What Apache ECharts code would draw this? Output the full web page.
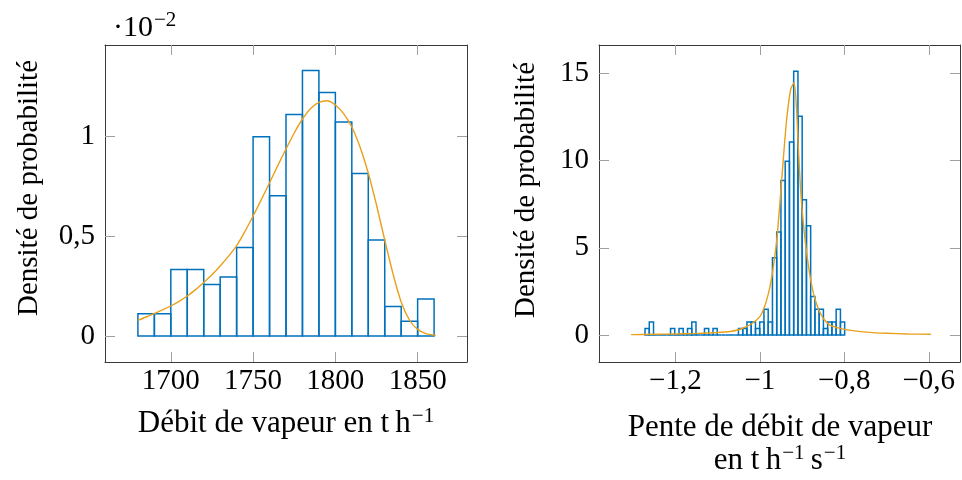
<!DOCTYPE html>
<html>
<head>
<meta charset="utf-8">
<script src="https://cdn.jsdelivr.net/npm/echarts@6/dist/echarts.min.js"></script>
<style>
html,body{margin:0;padding:0;background:#fff;}
#chart{width:962px;height:480px;}
</style>
</head>
<body>
<div id="chart"></div>
<script>
// ---- Left histogram: steam flow (density, in units of 1e-2) ----
const leftBinEdges = [1680,1690,1700,1710,1720,1730,1740,1750,1760,1770,1780,1790,1800,1810,1820,1830,1840,1850,1860];
const leftBinValues = [0.111,0.111,0.332,0.332,0.258,0.295,0.443,0.996,0.701,1.107,1.328,1.218,1.070,0.812,0.480,0.148,0.074,0.185];
const leftCurveX = [1680,1685,1690,1695,1700,1705,1710,1715,1720,1725,1730,1735,1740,1745,1750,1755,1760,1765,1770,1775,1780,1785,1790,1795,1800,1805,1810,1815,1820,1825,1830,1835,1840,1845,1850,1855,1861];
const leftCurveY = [0.078,0.095,0.113,0.131,0.150,0.173,0.200,0.232,0.268,0.306,0.350,0.398,0.452,0.522,0.600,0.682,0.766,0.852,0.935,1.015,1.085,1.138,1.168,1.176,1.155,1.112,1.045,0.945,0.815,0.655,0.480,0.312,0.170,0.080,0.033,0.012,0.004];
const leftXTicks = [1700,1750,1800,1850];
const leftXTickLabels = ['1700','1750','1800','1850'];
const leftYTicks = [0,0.5,1];
const leftYTickLabels = ['0','0,5','1'];

// ---- Right histogram: steam flow slope ----
const rightBinEdges = [-1.2720,-1.2619,-1.2519,-1.2418,-1.2318,-1.2217,-1.2116,-1.2016,-1.1915,-1.1815,-1.1714,-1.1613,-1.1513,-1.1412,-1.1312,-1.1211,-1.1110,-1.1010,-1.0909,-1.0809,-1.0708,-1.0607,-1.0507,-1.0406,-1.0306,-1.0205,-1.0104,-1.0004,-0.9903,-0.9803,-0.9702,-0.9601,-0.9501,-0.9400,-0.9300,-0.9199,-0.9098,-0.8998,-0.8897,-0.8797,-0.8696,-0.8595,-0.8495,-0.8394,-0.8294,-0.8193,-0.8092,-0.7992];
const rightBinValues = [0.37,0.74,0,0,0,0,0.37,0,0.37,0,0.37,0.74,0,0,0.37,0,0.37,0,0,0,0,0,0.37,0.37,0.74,0.74,0.37,0.74,1.48,0.74,4.43,5.90,8.86,9.96,11.07,15.13,12.55,7.75,6.27,2.21,1.48,1.48,0.37,0.74,0.74,1.48,0.74];
const rightCurveX = [-1.305,-1.25,-1.20,-1.15,-1.10,-1.07,-1.047,-1.032,-1.016,-1.000,-0.992,-0.984,-0.976,-0.968,-0.960,-0.9526,-0.9446,-0.9367,-0.927,-0.919,-0.913,-0.909,-0.9035,-0.897,-0.889,-0.881,-0.873,-0.862,-0.850,-0.834,-0.810,-0.78,-0.74,-0.70,-0.65,-0.595];
const rightCurveY = [0.02,0.04,0.06,0.09,0.14,0.20,0.33,0.48,0.70,1.05,1.43,2.00,2.77,3.92,5.45,7.55,10.04,12.33,14.09,14.47,12.90,10.80,8.32,6.40,4.68,3.35,2.39,1.53,0.96,0.57,0.38,0.25,0.15,0.10,0.06,0.04];
const rightXTicks = [-1.2,-1,-0.8,-0.6];
const rightXTickLabels = ['\u22121,2','\u22121','\u22120,8','\u22120,6'];
const rightYTicks = [0,5,10,15];
const rightYTickLabels = ['0','5','10','15'];

const FONT = 'Liberation Serif';
const FS = 29;
const FS_YNAME = 29;
const FS_XNAME = 31;
const BLUE = '#0072BD';
const ORANGE = '#E9A01A';
const FRAME = '#3a3a3a';
const TICK = '#a0a0a0';

function lookup(ticks, labels){
  return function(v){
    for (let i=0;i<ticks.length;i++){ if (Math.abs(ticks[i]-v) < 1e-6) return labels[i]; }
    return '';
  };
}

function xAxis(grid, min, max, ticks, labels, pos){
  const main = pos === 'bottom';
  return {
    gridIndex: grid, type: 'value', min: min, max: max, position: pos,
    axisLine: {show: true, onZero: false, lineStyle: {color: FRAME, width: 1}},
    axisTick: {show: true, inside: true, length: 10, customValues: ticks, lineStyle: {color: TICK, width: 1}},
    axisLabel: {show: main, customValues: ticks, formatter: lookup(ticks, labels), fontFamily: FONT, fontSize: FS, color: '#000', margin: 5},
    splitLine: {show: false}
  };
}
function yAxis(grid, min, max, ticks, labels, pos){
  const main = pos === 'left';
  return {
    gridIndex: grid, type: 'value', min: min, max: max, position: pos,
    axisLine: {show: true, onZero: false, lineStyle: {color: FRAME, width: 1}},
    axisTick: {show: true, inside: true, length: 10, customValues: ticks, lineStyle: {color: TICK, width: 1}},
    axisLabel: {show: main, customValues: ticks, formatter: lookup(ticks, labels), fontFamily: FONT, fontSize: FS, color: '#000', margin: 10},
    splitLine: {show: false}
  };
}

function binData(edges, values){
  const out = [];
  for (let i=0;i<values.length;i++) out.push([edges[i], edges[i+1], values[i]]);
  return out;
}
function zip(xs, ys){ return xs.map((x,i)=>[x, ys[i]]); }

function renderBin(params, api){
  const p0 = api.coord([api.value(0), 0]);
  const p1 = api.coord([api.value(1), api.value(2)]);
  return {
    type: 'rect',
    shape: {x: p0[0], y: p1[1], width: p1[0]-p0[0], height: p0[1]-p1[1]},
    style: {fill: 'rgba(0,0,0,0)', stroke: BLUE, lineWidth: 1.5}
  };
}

const chart = echarts.init(document.getElementById('chart'), null, {renderer: 'canvas'});
const supX = {fontFamily: FONT, fontSize: 21, verticalAlign: 'top', lineHeight: 22, padding: [0,0,0,1]};
const normX = {fontFamily: FONT, fontSize: FS_XNAME, lineHeight: 36};
const supM = {fontFamily: FONT, fontSize: 21, verticalAlign: 'top', lineHeight: 22, padding: [0,0,0,1]};
const normM = {fontFamily: FONT, fontSize: 30, lineHeight: 36};

chart.setOption({
  animation: false,
  backgroundColor: '#fff',
  grid: [
    {left: 105, top: 45, width: 362, height: 317},
    {left: 599, top: 45, width: 361, height: 317}
  ],
  xAxis: [
    xAxis(0, 1660, 1880, leftXTicks, leftXTickLabels, 'bottom'),
    xAxis(0, 1660, 1880, leftXTicks, leftXTickLabels, 'top'),
    xAxis(1, -1.381, -0.526, rightXTicks, rightXTickLabels, 'bottom'),
    xAxis(1, -1.381, -0.526, rightXTicks, rightXTickLabels, 'top')
  ],
  yAxis: [
    yAxis(0, -0.13, 1.455, leftYTicks, leftYTickLabels, 'left'),
    yAxis(0, -0.13, 1.455, leftYTicks, leftYTickLabels, 'right'),
    yAxis(1, -1.55, 16.63, rightYTicks, rightYTickLabels, 'left'),
    yAxis(1, -1.55, 16.63, rightYTicks, rightYTickLabels, 'right')
  ],
  series: [
    {type: 'custom', xAxisIndex: 0, yAxisIndex: 0, renderItem: renderBin, encode: {x: [0,1], y: 2}, data: binData(leftBinEdges, leftBinValues), z: 2},
    {type: 'line', xAxisIndex: 0, yAxisIndex: 0, data: zip(leftCurveX, leftCurveY), smooth: 0.3, showSymbol: false, lineStyle: {color: ORANGE, width: 1.4}, z: 3},
    {type: 'custom', xAxisIndex: 2, yAxisIndex: 2, renderItem: renderBin, encode: {x: [0,1], y: 2}, data: binData(rightBinEdges, rightBinValues), z: 2},
    {type: 'line', xAxisIndex: 2, yAxisIndex: 2, data: zip(rightCurveX, rightCurveY), smooth: 0.25, showSymbol: false, lineStyle: {color: ORANGE, width: 1.4}, z: 3}
  ],
  graphic: [
    {type: 'text', x: 29, y: 188, rotation: Math.PI/2, style: {text: 'Densité de probabilité', fontFamily: FONT, fontSize: FS_YNAME, fill: '#000', align: 'center', verticalAlign: 'middle'}},
    {type: 'text', x: 526, y: 190, rotation: Math.PI/2, style: {text: 'Densité de probabilité', fontFamily: FONT, fontSize: FS_YNAME, fill: '#000', align: 'center', verticalAlign: 'middle'}},
    {type: 'text', x: 113, y: 10, style: {text: '{n|\u00b710}{s|\u22122}', rich: {n: normM, s: supM}, fill: '#000', align: 'left', verticalAlign: 'top'}},
    {type: 'text', x: 286, y: 424, style: {text: '{n|Débit de vapeur en t\u2009h}{s|\u22121}', rich: {n: normX, s: supX}, fill: '#000', align: 'center', verticalAlign: 'middle'}},
    {type: 'text', x: 780, y: 428, style: {text: 'Pente de débit de vapeur', fontFamily: FONT, fontSize: FS_XNAME, fill: '#000', align: 'center', verticalAlign: 'middle'}},
    {type: 'text', x: 780, y: 461, style: {text: '{n|en t\u2009h}{s|\u22121}{n|\u2009s}{s|\u22121}', rich: {n: normX, s: supX}, fill: '#000', align: 'center', verticalAlign: 'middle'}}
  ]
});
</script>
</body>
</html>
